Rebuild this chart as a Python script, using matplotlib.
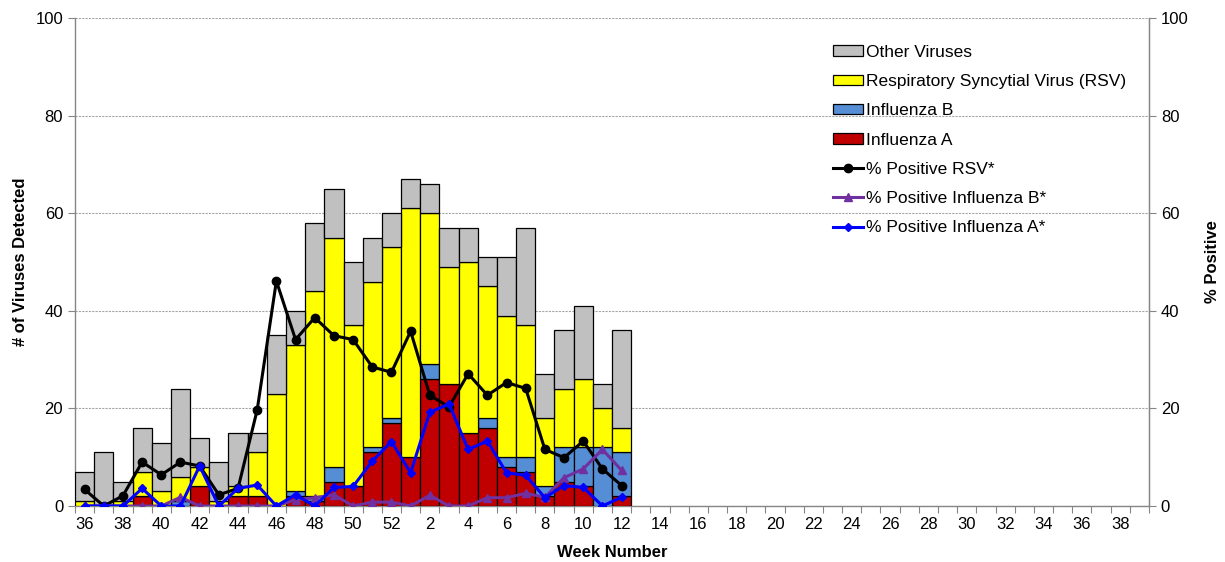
import matplotlib
matplotlib.use("Agg")
import matplotlib.pyplot as plt
import numpy as np

plt.rcParams['font.family'] = ['Liberation Sans', 'DejaVu Sans']

# Surveillance weeks (36 to 52, then 1 to 39)
weeks = list(range(36, 53)) + list(range(1, 40))

# Weekly counts of detected viruses (weeks 36 .. 12)
flu_a = [0, 0, 0, 2, 0, 0, 4, 0, 2, 2, 0, 2, 1, 5, 4, 11, 17,
         10, 26, 25, 15, 16, 8, 7, 2, 5, 4, 0, 2]
flu_b = [0, 0, 0, 0, 0, 1, 0, 0, 0, 0, 0, 1, 1, 3, 0, 1, 1,
         0, 3, 0, 0, 2, 2, 3, 2, 7, 8, 12, 9]
rsv = [1, 0, 1, 5, 3, 5, 4, 1, 2, 9, 23, 30, 42, 47, 33, 34, 35,
       51, 31, 24, 35, 27, 29, 27, 14, 12, 14, 8, 5]
other = [6, 11, 4, 9, 10, 18, 6, 8, 11, 4, 12, 7, 14, 10, 13, 9, 7,
         6, 6, 8, 7, 6, 12, 20, 9, 12, 15, 5, 20]

# Percent positive (weeks 36 .. 12)
pct_rsv = [3.4, 0, 2.1, 9.0, 6.4, 9.0, 8.2, 2.3, 3.6, 19.7, 46.1, 34.1, 38.6,
           34.9, 34.1, 28.5, 27.4, 35.8, 22.7, 20.3, 27.1, 22.7, 25.3, 24.1,
           11.6, 9.9, 13.3, 7.6, 4.2]
pct_flu_b = [0, 0, 0, 0, 0, 1.8, 0, 0, 0, 0, 0, 1.3, 1.7, 2.3, 0, 0.8, 0.8,
             0, 2.2, 0, 0, 1.7, 1.7, 2.6, 1.8, 5.8, 7.6, 11.6, 7.3]
pct_flu_a = [0, 0, 0, 3.6, 0, 0, 8.2, 0, 3.6, 4.3, 0, 2.3, 0, 3.8, 4.0, 9.2,
             13.2, 6.8, 19.2, 20.9, 11.6, 13.3, 6.8, 6.3, 1.7, 4.2, 3.8, 0, 1.8]

C_OTHER = '#C0C0C0'
C_RSV = '#FFFF00'
C_FLUB = '#558ED5'
C_FLUA = '#C00000'
GRID = '#A6A6A6'
AXIS = '#868686'

fig = plt.figure(figsize=(12.25, 5.62), dpi=100)
ax = fig.add_axes([75 / 1225, 56 / 562, 1074 / 1225, 488 / 562])

x = np.arange(len(flu_a))
a = np.array(flu_a)
b = np.array(flu_b)
r = np.array(rsv)
o = np.array(other)

bar_kw = dict(width=1.0, edgecolor='black', linewidth=0.9, zorder=3)
h_a = ax.bar(x, a, color=C_FLUA, label='Influenza A', **bar_kw)
h_b = ax.bar(x, b, bottom=a, color=C_FLUB, label='Influenza B', **bar_kw)
h_r = ax.bar(x, r, bottom=a + b, color=C_RSV,
             label='Respiratory Syncytial Virus (RSV)', **bar_kw)
h_o = ax.bar(x, o, bottom=a + b + r, color=C_OTHER, label='Other Viruses', **bar_kw)

ax.set_xlim(-0.5, len(weeks) - 0.5)
ax.set_ylim(0, 100)
ax.set_yticks(np.arange(0, 101, 20))
ax.yaxis.grid(True, linestyle=(0, (2, 1)), color=GRID, linewidth=0.8, zorder=0)
ax.set_axisbelow(True)

# Week labels every other week, tick marks at week boundaries
ax.set_xticks(np.arange(0, len(weeks), 2))
ax.set_xticklabels([str(weeks[i]) for i in range(0, len(weeks), 2)])
ax.set_xticks(np.arange(-0.5, len(weeks), 1), minor=True)
ax.tick_params(axis='x', which='major', length=0, labelsize=12, pad=8)
ax.tick_params(axis='x', which='minor', length=5, color=AXIS, width=0.8)
ax.tick_params(axis='y', length=5, color=AXIS, width=0.8, labelsize=12)

ax.spines['top'].set_visible(False)
for side in ['left', 'bottom', 'right']:
    ax.spines[side].set_color(AXIS)
    ax.spines[side].set_linewidth(1.0)

ax.set_ylabel('# of Viruses Detected', fontsize=12, fontweight='bold', labelpad=5)
ax.set_xlabel('Week Number', fontsize=12, fontweight='bold', labelpad=9)

ax2 = ax.twinx()
ax2.set_ylim(0, 100)
ax2.set_yticks(np.arange(0, 101, 20))
ax2.tick_params(axis='y', length=5, color=AXIS, width=0.8, labelsize=12)
for side in ['top', 'left', 'bottom']:
    ax2.spines[side].set_visible(False)
ax2.spines['right'].set_color(AXIS)
ax2.set_ylabel('% Positive', fontsize=12, fontweight='bold', labelpad=12)

l_r, = ax2.plot(x, pct_rsv, color='black', lw=2.2, marker='o', ms=6,
                label='% Positive RSV*')
l_b, = ax2.plot(x, pct_flu_b, color='#7030A0', lw=2.2, marker='^', ms=6,
                label='% Positive Influenza B*')
l_a, = ax2.plot(x, pct_flu_a, color='#0000FF', lw=2.2, marker='D', ms=4.5,
                label='% Positive Influenza A*')

handles = [h_o, h_r, h_b, h_a, l_r, l_b, l_a]
labels = [h.get_label() for h in handles]
ax2.legend(handles, labels, loc='upper left', bbox_to_anchor=(0.706, 0.945),
           frameon=False, fontsize=12.5, handlelength=1.72, handletextpad=0.18,
           handleheight=0.55, labelspacing=0.82, numpoints=1, borderaxespad=0,
           borderpad=0)

fig.savefig('out.png', dpi=100)
